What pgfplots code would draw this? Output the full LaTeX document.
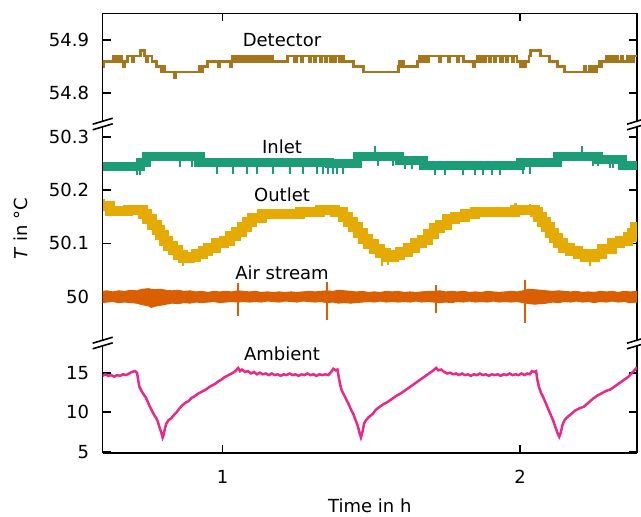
\documentclass[border=0pt]{standalone}
\usepackage{fontspec}
\setmainfont{DejaVu Sans}
\usepackage{pgfplots}
\pgfplotsset{compat=1.18}
\definecolor{cDet}{HTML}{A6761D}
\definecolor{cIn}{HTML}{1B9E77}
\definecolor{cOut}{HTML}{E6AB02}
\definecolor{cAir}{HTML}{D95F02}
\definecolor{cAmb}{HTML}{E7298A}
\newcommand{\fs}{\fontsize{9}{11}\selectfont}
\pgfplotsset{panel/.style={scale only axis, width=267.15pt, xmin=0.5964, xmax=2.3935,
  xtick={1,2}, anchor=south west, clip mode=individual,
  axis line style={line width=0.8pt, black},
  tick style={line width=0.8pt, black}, major tick length=4pt,
  tick label style={font=\fs}, /pgf/number format/assume math mode=true,
  yticklabel pos=left, yticklabel style={anchor=east, xshift=-3.3pt}}}
\begin{document}
\begin{tikzpicture}
\path[use as bounding box] (-51.35pt,-31.65pt) rectangle (269.15pt,226.35pt);
% ---------------- bottom panel: Ambient
\begin{axis}[panel, name=bot, at={(0,0)}, height=54.85pt,
  ymin=4.87, ymax=18.76, ytick={5,10,15}, yticklabels={5,10,15},
  axis x line*=bottom, axis y line*=box, tick align=inside,
  xticklabels={1,2}, xticklabel style={anchor=center, yshift=-12pt},
  xlabel={Time in h}, xlabel style={at={(axis description cs:0.5,0)}, anchor=center, yshift=-26.65pt, font=\fs}]
\addplot[cAmb, line width=1.25pt] coordinates {
(0.5964,14.6)(0.605,14.8)(0.615,14.6)(0.625,14.7)(0.635,14.5)(0.645,14.7)(0.655,14.6)(0.665,14.8)(0.675,14.7)(0.685,14.9)(0.695,15.1)(0.705,15.2)(0.712,15.0)
(0.716,14.0)(0.720,13.2)(0.728,12.6)(0.735,12.2)(0.741,11.9)(0.748,11.3)(0.755,10.7)(0.762,10.2)(0.770,9.6)(0.776,9.3)(0.782,8.8)(0.788,8.0)(0.793,7.5)(0.798,6.8)
(0.802,7.2)(0.806,8.0)(0.811,8.6)(0.818,9.0)(0.826,9.2)(0.835,9.6)(0.845,10.0)(0.855,10.5)(0.865,10.9)(0.875,11.2)(0.885,11.4)(0.895,11.8)(0.905,12.0)(0.915,12.3)
(0.925,12.5)(0.935,12.7)(0.945,12.9)(0.955,13.2)(0.965,13.4)(0.975,13.6)(0.985,13.9)(0.995,14.1)(1.005,14.4)(1.015,14.6)(1.025,14.8)(1.035,15.0)(1.045,15.3)(1.052,15.6)
(1.058,15.2)(1.065,15.4)(1.075,15.1)(1.085,15.2)(1.095,14.9)(1.105,15.1)(1.115,14.8)(1.125,15.0)(1.135,14.8)(1.145,14.9)(1.155,14.7)(1.165,14.9)(1.175,14.7)(1.185,14.8)
(1.195,14.6)(1.205,14.8)(1.215,14.7)(1.225,14.9)(1.235,14.7)(1.245,14.8)(1.255,14.6)(1.265,14.8)(1.275,14.7)(1.285,14.9)(1.295,14.7)(1.305,14.8)(1.315,14.6)(1.325,14.8)
(1.335,14.7)(1.345,14.8)(1.355,14.7)(1.365,15.1)(1.372,15.5)(1.380,15.3)(1.386,15.4)
(1.390,14.5)(1.395,13.5)(1.400,12.8)(1.408,12.2)(1.416,11.6)(1.425,10.9)(1.432,10.3)(1.440,9.7)(1.448,8.9)(1.455,8.2)(1.460,7.4)(1.465,6.8)
(1.470,7.5)(1.476,8.6)(1.482,9.0)(1.492,9.4)(1.505,9.8)(1.515,10.3)(1.525,10.6)(1.540,11.0)(1.555,11.3)(1.570,11.7)(1.585,12.1)(1.600,12.4)(1.615,12.8)(1.630,13.2)
(1.645,13.6)(1.660,14.0)(1.675,14.4)(1.690,14.8)(1.705,15.2)(1.718,15.6)(1.725,15.3)(1.735,15.4)
(1.745,15.1)(1.755,14.9)(1.765,15.0)(1.775,14.8)(1.785,14.9)(1.795,14.7)(1.805,14.9)(1.815,14.7)(1.825,14.8)(1.835,14.6)(1.845,14.8)(1.855,14.7)(1.865,14.9)(1.875,14.7)
(1.885,14.8)(1.895,14.6)(1.905,14.8)(1.915,14.7)(1.925,14.8)(1.935,14.6)(1.945,14.8)(1.955,14.7)(1.965,14.9)(1.975,14.7)(1.985,14.8)(1.995,14.7)(2.005,14.9)(2.015,14.7)
(2.025,14.9)(2.033,14.8)(2.040,15.2)(2.048,15.1)(2.054,15.2)
(2.058,14.2)(2.063,13.3)(2.070,12.5)(2.078,11.9)(2.086,11.2)(2.095,10.4)(2.103,9.7)(2.112,8.9)(2.120,8.0)(2.127,7.3)(2.132,6.9)
(2.137,7.4)(2.143,8.4)(2.150,9.0)(2.157,9.3)(2.170,9.7)(2.185,10.2)(2.200,10.5)(2.215,10.7)(2.230,11.2)(2.245,11.7)(2.260,12.1)(2.275,12.4)(2.290,12.7)(2.305,12.9)
(2.320,13.3)(2.335,13.7)(2.350,14.1)(2.365,14.5)(2.380,15.1)(2.3935,15.7)};
\node[font=\fs] at (axis cs:1.1995,17.37) {Ambient};
\end{axis}
% ---------------- middle panel: Inlet, Outlet, Air stream
\begin{axis}[panel, name=mid, at={(0,54.85pt)}, height=109.5pt,
  ymin=49.9132, ymax=50.3238, ytick={50,50.1,50.2,50.3}, yticklabels={50,50.1,50.2,50.3},
  axis x line=none, axis y line*=box, tick align=inside]
% Air stream band
\addplot[fill=cAir, draw=cAir, line width=0.5pt] coordinates {
(0.5964,50.010)(0.61,50.011)(0.63,50.009)(0.65,50.011)(0.67,50.010)(0.69,50.012)(0.71,50.011)(0.73,50.014)(0.75,50.015)(0.77,50.013)(0.79,50.014)(0.81,50.012)
(0.83,50.011)(0.85,50.012)(0.87,50.010)(0.89,50.011)(0.91,50.009)(0.93,50.010)(0.95,50.008)(0.97,50.010)(0.99,50.009)(1.01,50.010)(1.03,50.009)(1.05,50.011)
(1.07,50.010)(1.09,50.009)(1.11,50.010)(1.13,50.008)(1.15,50.009)(1.17,50.008)(1.19,50.009)(1.21,50.008)(1.23,50.009)(1.25,50.008)(1.27,50.009)(1.29,50.010)
(1.31,50.009)(1.33,50.010)(1.35,50.011)(1.37,50.010)(1.39,50.012)(1.41,50.011)(1.43,50.010)(1.45,50.009)(1.47,50.010)(1.49,50.008)(1.51,50.009)(1.53,50.008)
(1.55,50.010)(1.57,50.009)(1.59,50.010)(1.61,50.008)(1.63,50.009)(1.65,50.008)(1.67,50.009)(1.69,50.010)(1.71,50.010)(1.73,50.011)(1.75,50.009)(1.77,50.010)
(1.79,50.009)(1.81,50.010)(1.83,50.008)(1.85,50.009)(1.87,50.008)(1.89,50.010)(1.91,50.009)(1.93,50.008)(1.95,50.009)(1.97,50.010)(1.99,50.009)(2.01,50.011)
(2.03,50.014)(2.05,50.013)(2.07,50.012)(2.09,50.011)(2.11,50.010)(2.13,50.011)(2.15,50.010)(2.17,50.009)(2.19,50.010)(2.21,50.008)(2.23,50.009)(2.25,50.008)
(2.27,50.010)(2.29,50.009)(2.31,50.010)(2.33,50.008)(2.35,50.010)(2.37,50.009)(2.3935,50.010)
(2.3935,49.990)(2.37,49.989)(2.35,49.991)(2.33,49.990)(2.31,49.992)(2.29,49.990)(2.27,49.991)(2.25,49.989)(2.23,49.991)(2.21,49.990)(2.19,49.992)(2.17,49.990)
(2.15,49.991)(2.13,49.989)(2.11,49.990)(2.09,49.988)(2.07,49.987)(2.05,49.986)(2.03,49.987)(2.01,49.989)(1.99,49.991)(1.97,49.990)(1.95,49.991)(1.93,49.990)
(1.91,49.992)(1.89,49.990)(1.87,49.991)(1.85,49.990)(1.83,49.992)(1.81,49.990)(1.79,49.991)(1.77,49.989)(1.75,49.990)(1.73,49.989)(1.71,49.990)(1.69,49.991)
(1.67,49.990)(1.65,49.992)(1.63,49.990)(1.61,49.991)(1.59,49.990)(1.57,49.991)(1.55,49.990)(1.53,49.992)(1.51,49.990)(1.49,49.991)(1.47,49.990)(1.45,49.989)
(1.43,49.988)(1.41,49.989)(1.39,49.988)(1.37,49.990)(1.35,49.989)(1.33,49.991)(1.31,49.990)(1.29,49.991)(1.27,49.992)(1.25,49.990)(1.23,49.991)(1.21,49.992)
(1.19,49.990)(1.17,49.991)(1.15,49.992)(1.13,49.990)(1.11,49.991)(1.09,49.990)(1.07,49.991)(1.05,49.990)(1.03,49.991)(1.01,49.990)(0.99,49.989)(0.97,49.991)
(0.95,49.990)(0.93,49.989)(0.91,49.990)(0.89,49.988)(0.87,49.989)(0.85,49.987)(0.83,49.988)(0.81,49.986)(0.79,49.984)(0.77,49.982)(0.76,49.980)(0.75,49.983)
(0.73,49.985)(0.71,49.988)(0.69,49.989)(0.67,49.990)(0.65,49.989)(0.63,49.991)(0.61,49.990)(0.5964,49.989)};
\addplot[cAir, line width=1.2pt, unbounded coords=jump] coordinates {
(1.051,50.0257)(1.051,49.9638)(1.2,nan)(1.350,50.0276)(1.350,49.9563)(1.5,nan)
(1.717,50.0219)(1.717,49.9694)(1.9,nan)(2.017,50.0313)(2.017,49.9507)};
% Outlet
\addplot[cOut, line width=5pt, const plot] coordinates {
(0.5964,50.170)(0.6209,50.160)(0.6815,50.163)(0.7319,50.155)(0.7454,50.145)(0.7622,50.135)(0.7790,50.125)(0.7891,50.115)(0.8025,50.105)(0.8160,50.095)
(0.8328,50.088)(0.8496,50.078)(0.8665,50.073)(0.8900,50.075)(0.9102,50.080)(0.9337,50.085)(0.9506,50.092)(0.9775,50.100)(1.0044,50.105)(1.0246,50.113)
(1.0447,50.122)(1.0649,50.131)(1.0817,50.140)(1.0986,50.148)(1.1322,50.155)(1.2600,50.158)(1.3273,50.162)(1.3777,50.158)(1.4046,50.150)(1.4214,50.140)
(1.4382,50.130)(1.4551,50.120)(1.4719,50.108)(1.4887,50.098)(1.5089,50.090)(1.5291,50.082)(1.5493,50.075)(1.5762,50.078)(1.5964,50.083)(1.6233,50.092)
(1.6468,50.100)(1.6704,50.107)(1.6906,50.118)(1.7107,50.128)(1.7309,50.135)(1.7545,50.145)(1.7814,50.150)(1.8150,50.155)(1.8486,50.158)(1.9832,50.162)
(2.0505,50.158)(2.0606,50.150)(2.0740,50.140)(2.0875,50.130)(2.1009,50.120)(2.1144,50.110)(2.1278,50.100)(2.1446,50.092)(2.1682,50.085)(2.1951,50.080)
(2.2186,50.075)(2.2523,50.080)(2.2758,50.090)(2.3095,50.100)(2.3364,50.105)(2.3633,50.112)(2.3767,50.120)(2.3868,50.130)(2.3935,50.140)};
\addplot[cOut, line width=1.2pt, unbounded coords=jump] coordinates {
(0.8665,50.073)(0.8665,50.058)(1,nan)(1.536,50.075)(1.536,50.058)(1.54,nan)(1.556,50.077)(1.556,50.060)(1.6,nan)(2.236,50.077)(2.236,50.058)(2.3,nan)
(0.600,50.170)(0.600,50.183)(0.7,nan)(1.985,50.162)(1.985,50.175)(2,nan)(2.034,50.160)(2.034,50.173)};
% Inlet
\addplot[cIn, line width=4.5pt, const plot] coordinates {
(0.5964,50.245)(0.722,50.252)(0.745,50.263)(0.924,50.252)(1.360,50.250)(1.452,50.263)(1.596,50.255)(1.675,50.246)(2.000,50.251)(2.125,50.263)(2.263,50.257)(2.344,50.246)(2.3935,50.246)};
\addplot[cIn, line width=1.2pt, unbounded coords=jump] coordinates {
(0.712,50.245)(0.712,50.228)(0.715,nan)(0.722,50.245)(0.722,50.228)(0.8,nan)
(0.857,50.263)(0.857,50.243)(0.86,nan)(0.897,50.263)(0.897,50.243)(0.9,nan)(0.907,50.263)(0.907,50.243)(0.95,nan)
(0.981,50.252)(0.981,50.230)(1,nan)(1.035,50.252)(1.035,50.230)(1.04,nan)(1.082,50.252)(1.082,50.230)(1.09,nan)(1.115,50.252)(1.115,50.230)(1.12,nan)
(1.169,50.252)(1.169,50.230)(1.17,nan)(1.226,50.252)(1.226,50.230)(1.23,nan)(1.270,50.252)(1.270,50.230)(1.28,nan)(1.317,50.252)(1.317,50.230)(1.32,nan)
(1.338,50.250)(1.338,50.230)(1.34,nan)(1.354,50.250)(1.354,50.230)(1.36,nan)(1.371,50.250)(1.371,50.230)(1.375,nan)(1.384,50.250)(1.384,50.230)(1.39,nan)
(1.404,50.250)(1.404,50.230)(1.41,nan)(1.512,50.263)(1.512,50.283)(1.515,nan)(1.522,50.263)(1.522,50.245)(1.53,nan)(1.573,50.263)(1.573,50.245)(1.58,nan)
(1.613,50.255)(1.613,50.240)(1.62,nan)(1.637,50.255)(1.637,50.240)(1.64,nan)
(1.714,50.246)(1.714,50.228)(1.72,nan)(1.748,50.246)(1.748,50.228)(1.75,nan)(1.808,50.246)(1.808,50.228)(1.81,nan)(1.848,50.246)(1.848,50.228)(1.85,nan)
(1.876,50.246)(1.876,50.228)(1.88,nan)(1.906,50.246)(1.906,50.228)(1.91,nan)(1.933,50.246)(1.933,50.228)(1.94,nan)(2.010,50.251)(2.010,50.230)(2.02,nan)
(2.034,50.251)(2.034,50.230)(2.04,nan)(2.209,50.263)(2.209,50.283)(2.21,nan)(2.246,50.263)(2.246,50.245)(2.25,nan)(2.263,50.263)(2.263,50.245)(2.27,nan)
(2.303,50.257)(2.303,50.242)(2.305,nan)(2.313,50.257)(2.313,50.242)};
\node[font=\fs] at (axis cs:1.1995,50.2807) {Inlet};
\node[font=\fs] at (axis cs:1.1995,50.1907) {Outlet};
\node[font=\fs] at (axis cs:1.1995,50.0444) {Air stream};
\end{axis}
% ---------------- top panel: Detector
\begin{axis}[panel, name=top, at={(0,164.35pt)}, height=55.35pt,
  ymin=54.7424, ymax=54.9500, ytick={54.8,54.9}, yticklabels={54.8,54.9},
  axis x line*=top, axis y line*=box, tick align=inside, xticklabels={}]
\addplot[cDet, line width=1.4pt, const plot] coordinates {
(0.5964,54.85)(0.600,54.86)(0.632,54.87)(0.637,54.86)(0.644,54.87)(0.649,54.86)(0.655,54.87)(0.659,54.86)(0.667,54.85)(0.670,54.86)(0.679,54.87)(0.697,54.86)
(0.702,54.87)(0.724,54.88)(0.736,54.87)(0.745,54.86)(0.748,54.87)(0.762,54.86)(0.778,54.85)(0.795,54.84)(0.800,54.85)(0.806,54.84)(0.836,54.83)(0.842,54.84)
(0.920,54.85)(0.927,54.84)(0.931,54.85)(0.948,54.86)(0.985,54.85)(0.989,54.86)(1.025,54.85)(1.029,54.86)
(1.032,54.87)(1.036,54.86)(1.040,54.87)(1.046,54.86)(1.049,54.87)(1.055,54.86)(1.058,54.87)(1.064,54.86)(1.067,54.87)(1.075,54.86)(1.078,54.87)(1.085,54.86)
(1.088,54.87)(1.095,54.86)(1.099,54.87)(1.108,54.86)(1.111,54.87)(1.120,54.86)(1.123,54.87)(1.132,54.86)(1.135,54.87)(1.143,54.86)(1.146,54.87)(1.156,54.86)
(1.159,54.87)(1.168,54.86)(1.217,54.87)(1.240,54.86)(1.247,54.87)(1.265,54.86)(1.270,54.87)(1.290,54.86)(1.294,54.87)(1.310,54.86)(1.313,54.87)(1.330,54.86)
(1.333,54.87)(1.345,54.86)(1.349,54.87)(1.362,54.86)(1.366,54.87)(1.376,54.86)(1.380,54.87)(1.392,54.86)(1.395,54.87)(1.405,54.86)(1.439,54.85)(1.473,54.84)
(1.590,54.85)(1.594,54.86)(1.598,54.85)(1.605,54.86)(1.609,54.85)(1.655,54.86)(1.662,54.87)(1.666,54.86)(1.672,54.87)(1.676,54.86)(1.683,54.87)(1.690,54.86)
(1.694,54.87)(1.730,54.86)(1.734,54.87)(1.760,54.86)(1.763,54.87)(1.790,54.86)(1.794,54.87)(1.810,54.86)(1.842,54.85)(1.847,54.86)(1.857,54.87)(1.866,54.86)
(1.870,54.87)(1.880,54.86)(1.884,54.87)(1.898,54.86)(1.902,54.87)(1.915,54.86)(1.919,54.87)(1.935,54.86)(1.940,54.87)(1.955,54.86)(1.958,54.87)(1.975,54.86)
(1.979,54.87)(1.990,54.86)(2.000,54.85)(2.004,54.86)(2.015,54.85)(2.019,54.86)(2.030,54.87)(2.035,54.88)(2.068,54.87)(2.100,54.86)(2.125,54.85)(2.150,54.84)
(2.215,54.85)(2.219,54.84)(2.232,54.85)(2.236,54.84)(2.245,54.85)(2.250,54.84)(2.257,54.85)(2.266,54.86)(2.272,54.85)(2.276,54.86)(2.290,54.87)(2.294,54.86)
(2.305,54.87)(2.310,54.86)(2.322,54.87)(2.327,54.86)(2.340,54.87)(2.345,54.86)(2.360,54.87)(2.364,54.86)(2.372,54.87)(2.376,54.86)(2.383,54.87)(2.3935,54.87)};
\node[font=\fs] at (axis cs:1.1995,54.9) {Detector};
\end{axis}
% axis breaks
\foreach \yy in {54.85,164.35}{
  \foreach \xx in {0,267.15}{
    \fill[white] (\xx pt-5pt,\yy pt-2.9pt) -- (\xx pt+5pt,\yy pt+0.1pt) -- (\xx pt+5pt,\yy pt+2.9pt) -- (\xx pt-5pt,\yy pt-0.1pt) -- cycle;
    \draw[line width=0.8pt] (\xx pt-5pt,\yy pt-2.9pt) -- (\xx pt+5pt,\yy pt+0.1pt);
    \draw[line width=0.8pt] (\xx pt-5pt,\yy pt-0.1pt) -- (\xx pt+5pt,\yy pt+2.9pt);
  }
}
\node[rotate=90, font=\fs] at (-41pt,111.85pt) {\textit{T} in °C};
\end{tikzpicture}
\end{document}
